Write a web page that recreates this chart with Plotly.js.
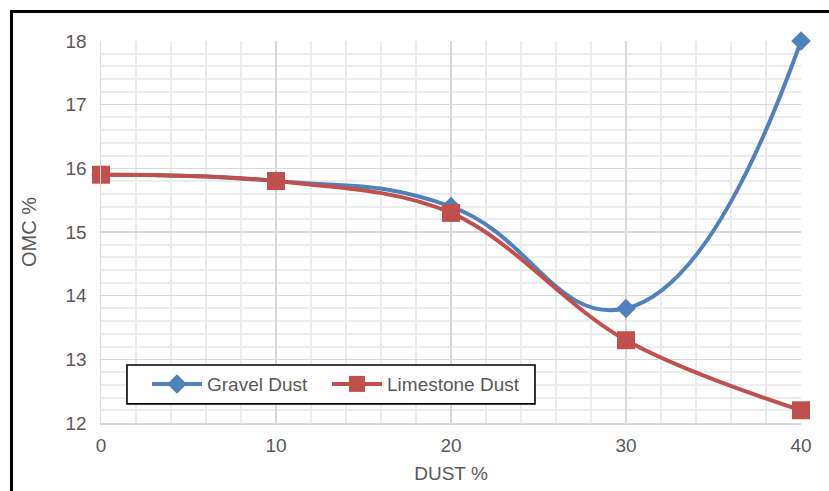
<!DOCTYPE html>
<html>
<head>
<meta charset="utf-8">
<script src="https://cdn.plot.ly/plotly-3.0.1.min.js"></script>
<style>
html,body{margin:0;padding:0;background:#fff;}
#wrap{position:relative;width:829px;height:491px;overflow:hidden;}
#chart{position:absolute;left:0;top:0;width:829px;height:491px;}
#frame{position:absolute;left:10px;top:10px;width:900px;height:600px;border:3px solid #000;pointer-events:none;box-sizing:border-box;}
</style>
</head>
<body>
<div id="wrap">
<div id="chart"></div>
<div id="frame"></div>
</div>
<script>
const dustPct = [0, 10, 20, 30, 40];
const gravelDust = [15.9, 15.8, 15.4, 13.8, 18.0];
const limestoneDust = [15.9, 15.8, 15.3, 13.3, 12.2];
const seriesNames = ["Gravel Dust", "Limestone Dust"];

const font = {family: "Liberation Sans, Arial, sans-serif", size: 19, color: "#595959"};

const traces = [
  {
    x: dustPct, y: gravelDust, name: seriesNames[0], type: "scatter", mode: "lines+markers",
    cliponaxis: false, legend: "legend",
    line: {color: "#4F81BD", width: 4, shape: "spline", smoothing: 1.3},
    marker: {symbol: "diamond", size: 15, color: "#4F81BD"}
  },
  {
    x: dustPct, y: limestoneDust, name: seriesNames[1], type: "scatter", mode: "lines+markers",
    cliponaxis: false, legend: "legend2",
    line: {color: "#C0504D", width: 4, shape: "spline", smoothing: 1},
    marker: {symbol: "square", size: 18, color: "#C0504D"}
  }
];

const legendBase = {
  orientation: "h", xanchor: "left", y: 0.102, yanchor: "middle",
  borderwidth: 0, bgcolor: "rgba(0,0,0,0)", font: font, itemwidth: 50
};

const layout = {
  width: 829, height: 491,
  margin: {l: 101, r: 28, t: 41, b: 68},
  paper_bgcolor: "rgba(0,0,0,0)",
  plot_bgcolor: "#fff",
  font: font,
  showlegend: true,
  legend: Object.assign({}, legendBase, {x: 0.0657}),
  legend2: Object.assign({}, legendBase, {x: 0.3229}),
  shapes: [
    {type: "rect", xref: "paper", yref: "paper", x0: 0.0371, x1: 0.62, y0: 0.05, y1: 0.152,
     line: {color: "#000", width: 1.6}, fillcolor: "#fff", layer: "above"}
  ],
  xaxis: {
    range: [0, 40], dtick: 10, tick0: 0,
    showgrid: true, gridcolor: "#d9d9d9", gridwidth: 1.5,
    minor: {dtick: 2, showgrid: true, gridcolor: "#ececec", gridwidth: 2},
    showline: true, linecolor: "#d9d9d9", linewidth: 1.5,
    zeroline: false, ticks: "", ticklabelstandoff: 5,
    tickfont: font,
    title: {text: "DUST %", font: font, standoff: 11}
  },
  yaxis: {
    range: [12, 18], dtick: 1, tick0: 12,
    showgrid: true, gridcolor: "#d9d9d9", gridwidth: 1.5,
    minor: {dtick: 0.2, showgrid: true, gridcolor: "#ececec", gridwidth: 2},
    showline: true, linecolor: "#d9d9d9", linewidth: 1.5,
    zeroline: false, ticks: "", ticklabelstandoff: 9,
    tickfont: font,
    title: {text: "OMC %", font: Object.assign({}, font, {size: 20}), standoff: 23}
  }
};

Plotly.newPlot("chart", traces, layout, {displayModeBar: false, staticPlot: true});
</script>
</body>
</html>
